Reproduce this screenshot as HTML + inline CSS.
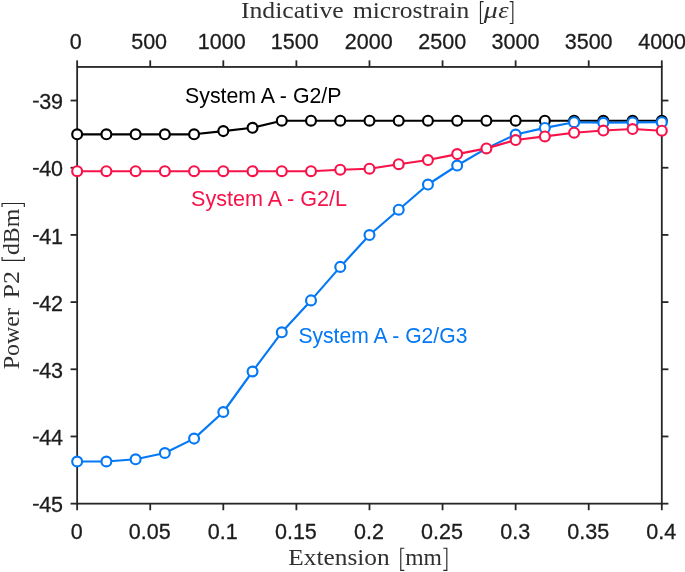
<!DOCTYPE html>
<html><head><meta charset="utf-8"><title>chart</title>
<style>
html,body{margin:0;padding:0;background:#fff;}
body{width:685px;height:572px;overflow:hidden;}
svg{display:block;will-change:transform;}
text{font-family:"Liberation Sans",sans-serif;}
.tk{font-size:22.8px;fill:#1c1c1c;stroke:#1c1c1c;stroke-width:0.3px;}
.an{font-size:22.2px;}
.ax{font-family:"Liberation Serif",serif;font-size:23.2px;fill:#303030;}
</style></head><body>
<svg width="685" height="572" viewBox="0 0 685 572">
<rect width="685" height="572" fill="#fff"/>
<g stroke="#262626" stroke-width="1.8" fill="none" stroke-linecap="butt">
<rect x="77.15" y="66.95" width="584.65" height="436.7"/>
<line x1="77.15" y1="66.95" x2="77.15" y2="60.35"/>
<line x1="77.15" y1="503.65" x2="77.15" y2="510.25"/>
<line x1="150.23" y1="66.95" x2="150.23" y2="60.35"/>
<line x1="150.23" y1="503.65" x2="150.23" y2="510.25"/>
<line x1="223.31" y1="66.95" x2="223.31" y2="60.35"/>
<line x1="223.31" y1="503.65" x2="223.31" y2="510.25"/>
<line x1="296.39" y1="66.95" x2="296.39" y2="60.35"/>
<line x1="296.39" y1="503.65" x2="296.39" y2="510.25"/>
<line x1="369.48" y1="66.95" x2="369.48" y2="60.35"/>
<line x1="369.48" y1="503.65" x2="369.48" y2="510.25"/>
<line x1="442.56" y1="66.95" x2="442.56" y2="60.35"/>
<line x1="442.56" y1="503.65" x2="442.56" y2="510.25"/>
<line x1="515.64" y1="66.95" x2="515.64" y2="60.35"/>
<line x1="515.64" y1="503.65" x2="515.64" y2="510.25"/>
<line x1="588.72" y1="66.95" x2="588.72" y2="60.35"/>
<line x1="588.72" y1="503.65" x2="588.72" y2="510.25"/>
<line x1="661.80" y1="66.95" x2="661.80" y2="60.35"/>
<line x1="661.80" y1="503.65" x2="661.80" y2="510.25"/>
<line x1="77.15" y1="503.65" x2="70.55000000000001" y2="503.65"/>
<line x1="661.8" y1="503.65" x2="668.4" y2="503.65"/>
<line x1="77.15" y1="436.47" x2="70.55000000000001" y2="436.47"/>
<line x1="661.8" y1="436.47" x2="668.4" y2="436.47"/>
<line x1="77.15" y1="369.28" x2="70.55000000000001" y2="369.28"/>
<line x1="661.8" y1="369.28" x2="668.4" y2="369.28"/>
<line x1="77.15" y1="302.10" x2="70.55000000000001" y2="302.10"/>
<line x1="661.8" y1="302.10" x2="668.4" y2="302.10"/>
<line x1="77.15" y1="234.91" x2="70.55000000000001" y2="234.91"/>
<line x1="661.8" y1="234.91" x2="668.4" y2="234.91"/>
<line x1="77.15" y1="167.73" x2="70.55000000000001" y2="167.73"/>
<line x1="661.8" y1="167.73" x2="668.4" y2="167.73"/>
<line x1="77.15" y1="100.54" x2="70.55000000000001" y2="100.54"/>
<line x1="661.8" y1="100.54" x2="668.4" y2="100.54"/>
</g>
<text class="tk" transform="translate(75.85,49.30) scale(0.945,1)" text-anchor="middle">0</text>
<text class="tk" transform="translate(76.65,538.70) scale(0.945,1)" text-anchor="middle">0</text>
<text class="tk" transform="translate(149.13,49.30) scale(0.945,1)" text-anchor="middle">500</text>
<text class="tk" transform="translate(149.73,538.70) scale(0.945,1)" text-anchor="middle">0.05</text>
<text class="tk" transform="translate(221.81,49.30) scale(0.945,1)" text-anchor="middle">1000</text>
<text class="tk" transform="translate(222.81,538.70) scale(0.945,1)" text-anchor="middle">0.1</text>
<text class="tk" transform="translate(294.79,49.30) scale(0.945,1)" text-anchor="middle">1500</text>
<text class="tk" transform="translate(295.89,538.70) scale(0.945,1)" text-anchor="middle">0.15</text>
<text class="tk" transform="translate(368.68,49.30) scale(0.945,1)" text-anchor="middle">2000</text>
<text class="tk" transform="translate(368.98,538.70) scale(0.945,1)" text-anchor="middle">0.2</text>
<text class="tk" transform="translate(442.16,49.30) scale(0.945,1)" text-anchor="middle">2500</text>
<text class="tk" transform="translate(442.06,538.70) scale(0.945,1)" text-anchor="middle">0.25</text>
<text class="tk" transform="translate(515.44,49.30) scale(0.945,1)" text-anchor="middle">3000</text>
<text class="tk" transform="translate(515.14,538.70) scale(0.945,1)" text-anchor="middle">0.3</text>
<text class="tk" transform="translate(588.62,49.30) scale(0.945,1)" text-anchor="middle">3500</text>
<text class="tk" transform="translate(588.22,538.70) scale(0.945,1)" text-anchor="middle">0.35</text>
<text class="tk" transform="translate(662.10,49.30) scale(0.945,1)" text-anchor="middle">4000</text>
<text class="tk" transform="translate(661.30,538.70) scale(0.945,1)" text-anchor="middle">0.4</text>
<text class="tk" transform="translate(63.10,512.25) scale(0.945,1)" text-anchor="end">45</text>
<rect x="33.0" y="503.80" width="5.8" height="1.9" fill="#262626"/>
<text class="tk" transform="translate(63.10,445.07) scale(0.945,1)" text-anchor="end">44</text>
<rect x="33.0" y="436.62" width="5.8" height="1.9" fill="#262626"/>
<text class="tk" transform="translate(63.10,377.88) scale(0.945,1)" text-anchor="end">43</text>
<rect x="33.0" y="369.43" width="5.8" height="1.9" fill="#262626"/>
<text class="tk" transform="translate(63.10,310.70) scale(0.945,1)" text-anchor="end">42</text>
<rect x="33.0" y="302.25" width="5.8" height="1.9" fill="#262626"/>
<text class="tk" transform="translate(63.10,243.51) scale(0.945,1)" text-anchor="end">41</text>
<rect x="33.0" y="235.06" width="5.8" height="1.9" fill="#262626"/>
<text class="tk" transform="translate(63.10,176.33) scale(0.945,1)" text-anchor="end">40</text>
<rect x="33.0" y="167.88" width="5.8" height="1.9" fill="#262626"/>
<text class="tk" transform="translate(63.10,109.14) scale(0.945,1)" text-anchor="end">39</text>
<rect x="33.0" y="100.69" width="5.8" height="1.9" fill="#262626"/>
<text class="ax" x="240.9" y="18.3" textLength="102.8" lengthAdjust="spacingAndGlyphs">Indicative</text>
<text class="ax" x="352.9" y="18.3" textLength="116.3" lengthAdjust="spacingAndGlyphs">microstrain</text>
<text class="ax" x="483.7" y="18.3" textLength="14.0" lengthAdjust="spacingAndGlyphs" font-style="italic">&#956;</text>
<text class="ax" x="498.2" y="18.3" textLength="10.4" lengthAdjust="spacingAndGlyphs" font-style="italic">&#949;</text>
<path d="M483.60,1.57H480.47V23.53H483.60 M509.70,1.57H512.82V23.53H509.70" fill="none" stroke="#262626" stroke-width="1.15"/>
<text class="ax" x="288.3" y="565.3" textLength="101.4" lengthAdjust="spacingAndGlyphs">Extension</text>
<text class="ax" x="405.2" y="565.3" textLength="36.8" lengthAdjust="spacingAndGlyphs">mm</text>
<path d="M404.30,548.27H400.77V570.42H404.30 M443.30,548.27H446.82V570.42H443.30" fill="none" stroke="#262626" stroke-width="1.15"/>
<g transform="translate(19.3,368.9) rotate(-90)">
<text class="ax" x="-0.4" y="0" textLength="61.3" lengthAdjust="spacingAndGlyphs">Power</text>
<text class="ax" x="70.3" y="0" textLength="27.6" lengthAdjust="spacingAndGlyphs">P2</text>
<text class="ax" x="113.8" y="0" textLength="46.4" lengthAdjust="spacingAndGlyphs">dBm</text>
<path d="M112.00,-17.23H108.48V5.02H112.00 M161.90,-17.23H165.43V5.02H161.90" fill="none" stroke="#262626" stroke-width="1.15"/>
</g>
<polyline points="77.15,134.30 106.38,134.30 135.62,134.30 164.85,134.30 194.08,134.30 223.31,131.10 252.54,127.80 281.78,120.70 311.01,120.70 340.24,120.70 369.48,120.70 398.71,120.70 427.94,120.70 457.17,120.70 486.40,120.70 515.64,120.70 544.87,120.70 574.10,120.70 603.33,120.70 632.57,120.70 661.80,120.70" fill="none" stroke="#000000" stroke-width="2.15" stroke-linejoin="round"/>
<circle cx="77.15" cy="134.30" r="4.95" fill="#fff" stroke="#000000" stroke-width="2.15"/>
<circle cx="106.38" cy="134.30" r="4.95" fill="#fff" stroke="#000000" stroke-width="2.15"/>
<circle cx="135.62" cy="134.30" r="4.95" fill="#fff" stroke="#000000" stroke-width="2.15"/>
<circle cx="164.85" cy="134.30" r="4.95" fill="#fff" stroke="#000000" stroke-width="2.15"/>
<circle cx="194.08" cy="134.30" r="4.95" fill="#fff" stroke="#000000" stroke-width="2.15"/>
<circle cx="223.31" cy="131.10" r="4.95" fill="#fff" stroke="#000000" stroke-width="2.15"/>
<circle cx="252.54" cy="127.80" r="4.95" fill="#fff" stroke="#000000" stroke-width="2.15"/>
<circle cx="281.78" cy="120.70" r="4.95" fill="#fff" stroke="#000000" stroke-width="2.15"/>
<circle cx="311.01" cy="120.70" r="4.95" fill="#fff" stroke="#000000" stroke-width="2.15"/>
<circle cx="340.24" cy="120.70" r="4.95" fill="#fff" stroke="#000000" stroke-width="2.15"/>
<circle cx="369.48" cy="120.70" r="4.95" fill="#fff" stroke="#000000" stroke-width="2.15"/>
<circle cx="398.71" cy="120.70" r="4.95" fill="#fff" stroke="#000000" stroke-width="2.15"/>
<circle cx="427.94" cy="120.70" r="4.95" fill="#fff" stroke="#000000" stroke-width="2.15"/>
<circle cx="457.17" cy="120.70" r="4.95" fill="#fff" stroke="#000000" stroke-width="2.15"/>
<circle cx="486.40" cy="120.70" r="4.95" fill="#fff" stroke="#000000" stroke-width="2.15"/>
<circle cx="515.64" cy="120.70" r="4.95" fill="#fff" stroke="#000000" stroke-width="2.15"/>
<circle cx="544.87" cy="120.70" r="4.95" fill="#fff" stroke="#000000" stroke-width="2.15"/>
<circle cx="574.10" cy="120.70" r="4.95" fill="#fff" stroke="#000000" stroke-width="2.15"/>
<circle cx="603.33" cy="120.70" r="4.95" fill="#fff" stroke="#000000" stroke-width="2.15"/>
<circle cx="632.57" cy="120.70" r="4.95" fill="#fff" stroke="#000000" stroke-width="2.15"/>
<circle cx="661.80" cy="120.70" r="4.95" fill="#fff" stroke="#000000" stroke-width="2.15"/>
<polyline points="77.15,461.50 106.38,461.50 135.62,459.30 164.85,453.00 194.08,438.60 223.31,412.00 252.54,371.50 281.78,332.30 311.01,300.40 340.24,266.90 369.48,235.00 398.71,209.70 427.94,184.50 457.17,165.50 486.40,148.40 515.64,134.50 544.87,127.90 574.10,122.20 603.33,122.80 632.57,122.40 661.80,122.20" fill="none" stroke="#0478F5" stroke-width="2.15" stroke-linejoin="round"/>
<circle cx="77.15" cy="461.50" r="4.95" fill="#fff" stroke="#0478F5" stroke-width="2.15"/>
<circle cx="106.38" cy="461.50" r="4.95" fill="#fff" stroke="#0478F5" stroke-width="2.15"/>
<circle cx="135.62" cy="459.30" r="4.95" fill="#fff" stroke="#0478F5" stroke-width="2.15"/>
<circle cx="164.85" cy="453.00" r="4.95" fill="#fff" stroke="#0478F5" stroke-width="2.15"/>
<circle cx="194.08" cy="438.60" r="4.95" fill="#fff" stroke="#0478F5" stroke-width="2.15"/>
<circle cx="223.31" cy="412.00" r="4.95" fill="#fff" stroke="#0478F5" stroke-width="2.15"/>
<circle cx="252.54" cy="371.50" r="4.95" fill="#fff" stroke="#0478F5" stroke-width="2.15"/>
<circle cx="281.78" cy="332.30" r="4.95" fill="#fff" stroke="#0478F5" stroke-width="2.15"/>
<circle cx="311.01" cy="300.40" r="4.95" fill="#fff" stroke="#0478F5" stroke-width="2.15"/>
<circle cx="340.24" cy="266.90" r="4.95" fill="#fff" stroke="#0478F5" stroke-width="2.15"/>
<circle cx="369.48" cy="235.00" r="4.95" fill="#fff" stroke="#0478F5" stroke-width="2.15"/>
<circle cx="398.71" cy="209.70" r="4.95" fill="#fff" stroke="#0478F5" stroke-width="2.15"/>
<circle cx="427.94" cy="184.50" r="4.95" fill="#fff" stroke="#0478F5" stroke-width="2.15"/>
<circle cx="457.17" cy="165.50" r="4.95" fill="#fff" stroke="#0478F5" stroke-width="2.15"/>
<circle cx="515.64" cy="134.50" r="4.95" fill="#fff" stroke="#0478F5" stroke-width="2.15"/>
<circle cx="544.87" cy="127.90" r="4.95" fill="#fff" stroke="#0478F5" stroke-width="2.15"/>
<circle cx="574.10" cy="122.20" r="4.95" fill="#fff" stroke="#0478F5" stroke-width="2.15"/>
<circle cx="603.33" cy="122.80" r="4.95" fill="#fff" stroke="#0478F5" stroke-width="2.15"/>
<circle cx="632.57" cy="122.40" r="4.95" fill="#fff" stroke="#0478F5" stroke-width="2.15"/>
<circle cx="661.80" cy="122.20" r="4.95" fill="#fff" stroke="#0478F5" stroke-width="2.15"/>
<polyline points="77.15,171.20 106.38,171.20 135.62,171.20 164.85,171.20 194.08,171.20 223.31,171.20 252.54,171.20 281.78,171.20 311.01,171.20 340.24,169.70 369.48,168.70 398.71,164.20 427.94,160.00 457.17,154.10 486.40,148.40 515.64,140.00 544.87,136.40 574.10,132.70 603.33,130.50 632.57,129.00 661.80,130.70" fill="none" stroke="#F7134A" stroke-width="2.15" stroke-linejoin="round"/>
<circle cx="77.15" cy="171.20" r="4.95" fill="#fff" stroke="#F7134A" stroke-width="2.15"/>
<circle cx="106.38" cy="171.20" r="4.95" fill="#fff" stroke="#F7134A" stroke-width="2.15"/>
<circle cx="135.62" cy="171.20" r="4.95" fill="#fff" stroke="#F7134A" stroke-width="2.15"/>
<circle cx="164.85" cy="171.20" r="4.95" fill="#fff" stroke="#F7134A" stroke-width="2.15"/>
<circle cx="194.08" cy="171.20" r="4.95" fill="#fff" stroke="#F7134A" stroke-width="2.15"/>
<circle cx="223.31" cy="171.20" r="4.95" fill="#fff" stroke="#F7134A" stroke-width="2.15"/>
<circle cx="252.54" cy="171.20" r="4.95" fill="#fff" stroke="#F7134A" stroke-width="2.15"/>
<circle cx="281.78" cy="171.20" r="4.95" fill="#fff" stroke="#F7134A" stroke-width="2.15"/>
<circle cx="311.01" cy="171.20" r="4.95" fill="#fff" stroke="#F7134A" stroke-width="2.15"/>
<circle cx="340.24" cy="169.70" r="4.95" fill="#fff" stroke="#F7134A" stroke-width="2.15"/>
<circle cx="369.48" cy="168.70" r="4.95" fill="#fff" stroke="#F7134A" stroke-width="2.15"/>
<circle cx="398.71" cy="164.20" r="4.95" fill="#fff" stroke="#F7134A" stroke-width="2.15"/>
<circle cx="427.94" cy="160.00" r="4.95" fill="#fff" stroke="#F7134A" stroke-width="2.15"/>
<circle cx="457.17" cy="154.10" r="4.95" fill="#fff" stroke="#F7134A" stroke-width="2.15"/>
<circle cx="486.40" cy="148.40" r="4.95" fill="#fff" stroke="#F7134A" stroke-width="2.15"/>
<circle cx="515.64" cy="140.00" r="4.95" fill="#fff" stroke="#F7134A" stroke-width="2.15"/>
<circle cx="544.87" cy="136.40" r="4.95" fill="#fff" stroke="#F7134A" stroke-width="2.15"/>
<circle cx="574.10" cy="132.70" r="4.95" fill="#fff" stroke="#F7134A" stroke-width="2.15"/>
<circle cx="603.33" cy="130.50" r="4.95" fill="#fff" stroke="#F7134A" stroke-width="2.15"/>
<circle cx="632.57" cy="129.00" r="4.95" fill="#fff" stroke="#F7134A" stroke-width="2.15"/>
<circle cx="661.80" cy="130.70" r="4.95" fill="#fff" stroke="#F7134A" stroke-width="2.15"/>
<text class="an" x="185" y="102.6" fill="#000000" textLength="156.5" lengthAdjust="spacingAndGlyphs">System A - G2/P</text>
<text class="an" x="191.0" y="206.3" fill="#F7134A" textLength="156" lengthAdjust="spacingAndGlyphs">System A - G2/L</text>
<text class="an" x="298.4" y="343.3" fill="#0478F5" textLength="169" lengthAdjust="spacingAndGlyphs">System A - G2/G3</text>
</svg>
</body></html>
